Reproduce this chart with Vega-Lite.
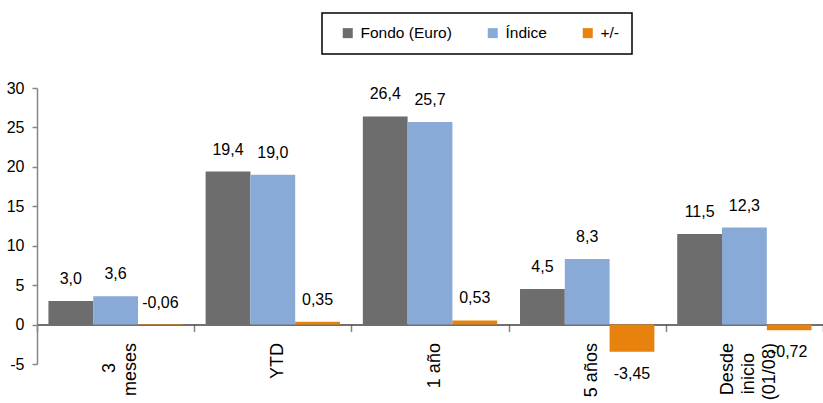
{
  "$schema": "https://vega.github.io/schema/vega-lite/v6.json",
  "width": 786,
  "height": 276,
  "autosize": {"type": "none"},
  "padding": {"left": 37, "top": 88, "right": 0, "bottom": 39},
  "background": "white",
  "config": {
    "view": {"stroke": null},
    "font": "Liberation Sans",
    "locale": {"number": {"decimal": ",", "thousands": ".", "grouping": [3], "currency": ["", " €"], "minus": "-"}},
    "legend": {"strokeWidth": 1.5}
  },
  "data": {
    "values": [
      {"periodo": "3\nmeses", "serie": "Fondo (Euro)", "valor": 3.0},
      {"periodo": "3\nmeses", "serie": "Índice", "valor": 3.6},
      {"periodo": "3\nmeses", "serie": "+/-", "valor": -0.06},
      {"periodo": "YTD", "serie": "Fondo (Euro)", "valor": 19.4},
      {"periodo": "YTD", "serie": "Índice", "valor": 19.0},
      {"periodo": "YTD", "serie": "+/-", "valor": 0.35},
      {"periodo": "1 año", "serie": "Fondo (Euro)", "valor": 26.4},
      {"periodo": "1 año", "serie": "Índice", "valor": 25.7},
      {"periodo": "1 año", "serie": "+/-", "valor": 0.53},
      {"periodo": "5 años", "serie": "Fondo (Euro)", "valor": 4.5},
      {"periodo": "5 años", "serie": "Índice", "valor": 8.3},
      {"periodo": "5 años", "serie": "+/-", "valor": -3.45},
      {"periodo": "Desde\ninicio\n(01/08)", "serie": "Fondo (Euro)", "valor": 11.5},
      {"periodo": "Desde\ninicio\n(01/08)", "serie": "Índice", "valor": 12.3},
      {"periodo": "Desde\ninicio\n(01/08)", "serie": "+/-", "valor": -0.72}
    ]
  },
  "encoding": {
    "x": {
      "field": "periodo",
      "type": "nominal",
      "sort": ["3\nmeses", "YTD", "1 año", "5 años", "Desde\ninicio\n(01/08)"],
      "scale": {"paddingInner": 0, "paddingOuter": 0},
      "axis": {
        "title": null,
        "orient": "bottom",
        "offset": -39.4,
        "domainColor": "#404040",
        "domainWidth": 1.5,
        "tickBand": "extent",
        "tickSize": 7,
        "tickColor": "#868686",
        "tickWidth": 1.5,
        "labelAngle": -90,
        "labelAlign": "right",
        "labelBaseline": "middle",
        "labelFontSize": 18,
        "labelColor": "black",
        "labelOverlap": false,
        "labelExpr": "length(split(datum.label, '\\n')) == 1 ? ['\u200b', '\u200b', datum.label, '\u200b', '\u200b'] : length(split(datum.label, '\\n')) == 2 ? ['\u200b', split(datum.label, '\\n')[0] + '\u00a0\u00a0\u00a0\u00a0\u200b', '\u200b', split(datum.label, '\\n')[1], '\u200b'] : [split(datum.label, '\\n')[0], '\u200b', split(datum.label, '\\n')[1] + '\u00a0\u00a0\u200b', '\u200b', split(datum.label, '\\n')[2]]",
        "labelLineHeight": 10.5,
        "labelOffset": -16.5,
        "labelPadding": 11
      }
    },
    "xOffset": {
      "field": "serie",
      "type": "nominal",
      "sort": ["Fondo (Euro)", "Índice", "+/-"],
      "scale": {"paddingInner": 0, "paddingOuter": 0.255}
    },
    "y": {
      "field": "valor",
      "type": "quantitative",
      "scale": {"domain": [-5, 30], "nice": false, "zero": false},
      "axis": {
        "title": null,
        "grid": false,
        "values": [-5, 0, 5, 10, 15, 20, 25, 30],
        "domainColor": "#868686",
        "domainWidth": 1.5,
        "tickColor": "#868686",
        "tickWidth": 1.5,
        "tickSize": 5,
        "labelFontSize": 16,
        "labelColor": "black",
        "labelPadding": 8
      }
    }
  },
  "layer": [
    {
      "mark": {"type": "bar"},
      "encoding": {
        "color": {
          "field": "serie",
          "type": "nominal",
          "sort": ["Fondo (Euro)", "Índice", "+/-"],
          "scale": {"domain": ["Fondo (Euro)", "Índice", "+/-"], "range": ["#6d6d6d", "#89aad6", "#e8820e"]},
          "legend": {
            "orient": "none",
            "legendX": 285,
            "legendY": -75,
            "direction": "horizontal",
            "title": null,
            "symbolType": "square",
            "symbolSize": 100,
            "symbolStrokeWidth": 0,
            "symbolOffset": 6,
            "strokeColor": "black",
            "padding": 12,
            "columnPadding": 27,
            "labelOffset": 5,
            "labelFontSize": 15.5,
            "labelColor": "black"
          }
        }
      }
    },
    {
      "transform": [{"filter": "datum.serie !== '+/-'"}],
      "mark": {"type": "text", "dy": -22, "fontSize": 16, "color": "black"},
      "encoding": {"text": {"field": "valor", "type": "quantitative", "format": ".1f"}}
    },
    {
      "transform": [{"filter": "datum.serie === '+/-' && datum.valor > -0.5"}],
      "mark": {"type": "text", "dy": -22, "fontSize": 16, "color": "black"},
      "encoding": {"text": {"field": "valor", "type": "quantitative", "format": ".2f"}}
    },
    {
      "transform": [{"filter": "datum.serie === '+/-' && datum.valor <= -0.5"}],
      "mark": {"type": "text", "dy": 22, "fontSize": 16, "color": "black"},
      "encoding": {"text": {"field": "valor", "type": "quantitative", "format": ".2f"}}
    }
  ]
}
